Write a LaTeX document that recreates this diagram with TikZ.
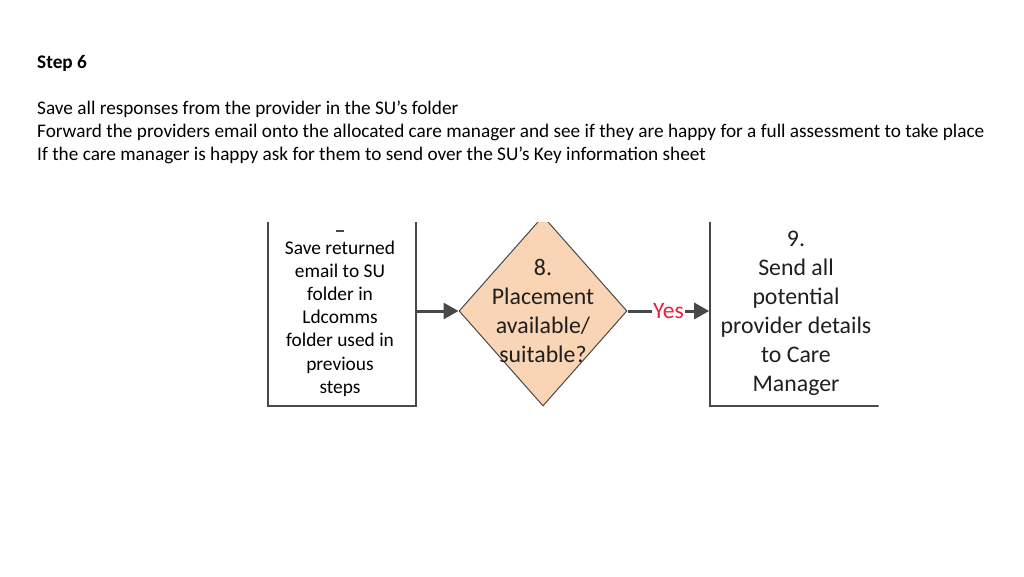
\documentclass[tikz,border=0pt]{standalone}
\usepackage{fontspec}
\setmainfont{Carlito}
\usepackage{xcolor}
\usetikzlibrary{arrows.meta,positioning,shapes.geometric}
\definecolor{peach}{RGB}{250,213,181}
\definecolor{edgegray}{RGB}{72,72,72}
\definecolor{yesred}{RGB}{236,30,58}
\begin{document}
\begin{tikzpicture}[x=1pt, y=-1pt,
  line/.style={anchor=base west, inner sep=0pt, font=\fontsize{19.25}{23}\selectfont},
  box/.style={draw=edgegray, line width=1.6pt, inner sep=0pt},
  boxtext/.style={align=center, inner sep=0pt, font=\fontsize{19.4}{23.2}\selectfont},
  decision/.style={shape=diamond, draw=edgegray, line width=1pt, fill=peach, inner sep=0pt, minimum width=168pt, minimum height=190pt},
  dtext/.style={align=center, inner sep=0pt, text=black!88, font=\fontsize{23.8}{29}\selectfont},
  arr/.style={-{Triangle[length=15pt, width=16pt]}, draw=edgegray, line width=3pt}]
\useasboundingbox (0,0) rectangle (1024,576);
% heading and instructions
\node[line, font=\fontsize{19.25}{23}\selectfont\bfseries] (title) at (37,68) {Step 6};
\node[line] (l1) at (37,114) {Save all responses from the provider in the SU’s folder};
\node[line] (l2) at (37,137) {Forward the providers email onto the allocated care manager and see if they are happy for a full assessment to take place};
\node[line] (l3) at (37,160) {If the care manager is happy ask for them to send over the SU’s Key information sheet};
% cropped part of the flow chart
\begin{scope}
\clip (262,222) rectangle (878.5,412);
\node[box, minimum width=148pt, minimum height=200pt] (s7) at (342,306) {};
\node[boxtext] (s7t) at (340,318.5) {Save returned\\email to SU\\folder in\\Ldcomms\\folder used in\\previous\\steps};
\draw[edgegray, line width=1.2pt] (336,231) -- (344,231);
\node[decision] (d8) at (543,311) {};
\node[dtext] (d8t) at (d8) {8.\\Placement\\available/\\suitable?};
\node[box, minimum width=172pt, minimum height=190pt] (s9) at (796,311) {};
\node[dtext] (s9t) at (796,313) {9.\\Send all\\potential\\provider details\\to Care\\Manager};
\draw[arr] (s7.east |- d8.west) -- (d8.west);
\draw[arr] (d8.east) -- node[fill=white, inner sep=1pt, text=yesred, font=\fontsize{23.5}{27}\selectfont] (yes) {Yes} (s9.west |- d8.east);
\end{scope}
\end{tikzpicture}
\end{document}
